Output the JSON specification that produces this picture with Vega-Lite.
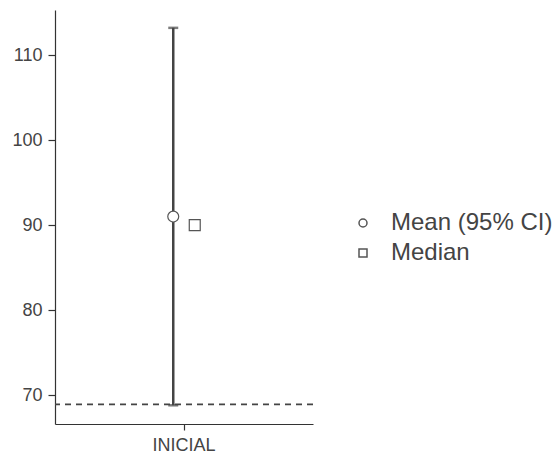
{
  "$schema": "https://vega.github.io/schema/vega-lite/v6.json",
  "width": 258,
  "height": 414,
  "autosize": {"type": "none"},
  "padding": {"left": 55, "top": 10, "right": 242, "bottom": 37},
  "background": "white",
  "config": {
    "view": {"stroke": null},
    "font": "Liberation Sans",
    "axis": {"labelColor": "#444", "labelFontSize": 18, "domainColor": "#333", "tickColor": "#333", "grid": false, "title": null, "domainWidth": 1.2, "tickWidth": 1.2}
  },
  "datasets": {
    "stats": [
      {"cat": "INICIAL", "stat": "Mean (95% CI)", "value": 91, "lo": 68.8, "hi": 113.2},
      {"cat": "INICIAL", "stat": "Median", "value": 90}
    ],
    "ref": [{"ref": 68.9}]
  },
  "encoding": {
    "x": {"field": "cat", "type": "nominal", "scale": {"type": "band", "paddingInner": 0, "paddingOuter": 2.43}, "axis": {"labelAngle": 0, "tickSize": 6, "labelPadding": 6}},
    "xOffset": {"field": "stat", "type": "nominal", "scale": {"domain": ["Mean (95% CI)", "Median"], "paddingInner": 0, "paddingOuter": 1}}
  },
  "layer": [
    {
      "data": {"name": "stats"},
      "transform": [{"filter": "datum.stat === 'Mean (95% CI)'"}],
      "mark": {"type": "rule", "color": "#444", "strokeWidth": 2.5},
      "encoding": {
        "y": {"field": "lo", "type": "quantitative", "scale": {"domain": [66.6, 115.3], "zero": false, "nice": false}, "axis": {"values": [70, 80, 90, 100, 110], "tickSize": 7, "labelPadding": 6}},
        "y2": {"field": "hi"}
      }
    },
    {
      "data": {"name": "stats"},
      "transform": [{"filter": "datum.stat === 'Mean (95% CI)'"}],
      "mark": {"type": "tick", "color": "#444", "thickness": 2.5, "size": 10},
      "encoding": {"y": {"field": "hi", "type": "quantitative"}}
    },
    {
      "data": {"name": "stats"},
      "transform": [{"filter": "datum.stat === 'Mean (95% CI)'"}],
      "mark": {"type": "tick", "color": "#444", "thickness": 2.5, "size": 10},
      "encoding": {"y": {"field": "lo", "type": "quantitative"}}
    },
    {
      "data": {"name": "ref"},
      "mark": {"type": "rule", "color": "#444", "strokeWidth": 1.8, "strokeDash": [6, 5]},
      "encoding": {"y": {"field": "ref", "type": "quantitative"}, "x": null, "xOffset": null}
    },
    {
      "data": {"name": "stats"},
      "mark": {"type": "point", "filled": true, "fill": "white", "stroke": "#555", "strokeWidth": 1.2, "size": 120, "opacity": 1},
      "encoding": {
        "y": {"field": "value", "type": "quantitative"},
        "shape": {"field": "stat", "type": "nominal", "scale": {"domain": ["Mean (95% CI)", "Median"], "range": ["circle", "square"]},
          "legend": {"title": null, "orient": "none", "legendX": 296, "legendY": 201, "labelFontSize": 24, "labelColor": "#444", "labelLimit": 400, "symbolSize": 64, "rowPadding": 6, "labelOffset": 16, "padding": 0,
            "encode": {"symbols": {"update": {"fill": {"value": "white"}, "stroke": {"value": "#555"}, "strokeWidth": {"value": 1.2}, "opacity": {"value": 1}}}}}}
      }
    }
  ]
}
